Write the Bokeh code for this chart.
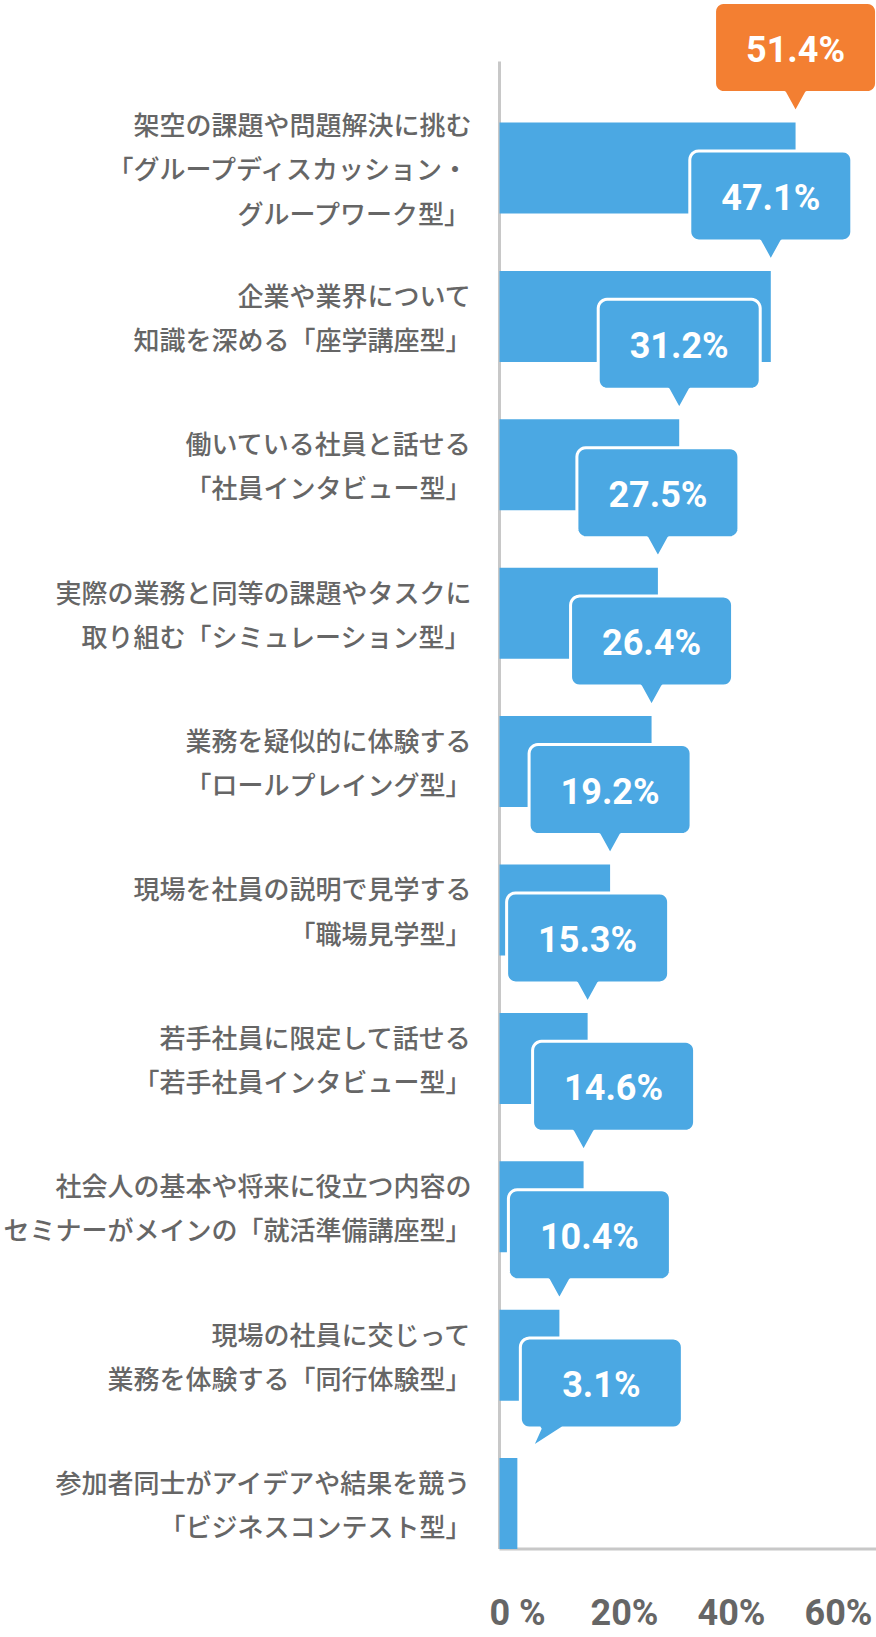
import numpy as np
from bokeh.plotting import figure
from bokeh.models import Range1d, FixedTicker
from bokeh.core.properties import value
from bokeh.embed import file_html
from bokeh.resources import INLINE

# ---------------- data ----------------
categories = [
    "架空の課題や問題解決に挑む\n「グループディスカッション・\nグループワーク型」",
    "企業や業界について\n知識を深める「座学講座型」",
    "働いている社員と話せる\n「社員インタビュー型」",
    "実際の業務と同等の課題やタスクに\n取り組む「シミュレーション型」",
    "業務を疑似的に体験する\n「ロールプレイング型」",
    "現場を社員の説明で見学する\n「職場見学型」",
    "若手社員に限定して話せる\n「若手社員インタビュー型」",
    "社会人の基本や将来に役立つ内容の\nセミナーがメインの「就活準備講座型」",
    "現場の社員に交じって\n業務を体験する「同行体験型」",
    "参加者同士がアイデアや結果を競う\n「ビジネスコンテスト型」",
]
values = [51.4, 47.1, 31.2, 27.5, 26.4, 19.2, 15.3, 14.6, 10.4, 3.1]
tick_values = [0, 20, 40, 60]
tick_labels = ["0 %", "20%", "40%", "60%"]

# ---------------- layout / style (pixels) ----------------
W, H = 876, 1637
BOTTOM = 86
FRAME_H = H - BOTTOM
AXIS_X = 499.0          # canvas x of the value axis (0 %)
PX = 5.76               # pixels per percent
ROW0 = 167.5            # canvas y of first bar centre
PITCH = 148.4           # row pitch
BAR_H = 91.0
LABEL_RIGHT = 471.0
AXIS_TOP = 61.0
TICK_OFF = 18.0
TICK_STEP = 107.0 / 20.0

BW, BH, R = 162.0, 90.0, 9.0
BOX_GAP, TIP_GAP, HB = 30.0, 10.0, 11.0
box_dx = [0, 0, 0, 0, 0, 0, 0, 30, 30, 84]
tip_dx = [0, 0, 0, 0, 0, 0, 0, 0, 0, 14]
base_dx = [0, 0, 0, 0, 0, 0, 0, 0, 0, 34]

BLUE = "#4ba8e3"
ORANGE = "#f37f32"
GRAY_TXT = "#666666"
AXIS_C = "#c8c8c8"


def dx(px):
    return (px - AXIS_X) / PX


def dy(py):
    return (py - ROW0) / PITCH


p = figure(width=W, height=H, output_backend="svg", toolbar_location=None,
           x_range=Range1d(dx(0), dx(W)),
           y_range=Range1d(dy(FRAME_H), dy(0)),
           y_axis_location=None,
           min_border_left=0, min_border_right=0, min_border_top=0,
           min_border_bottom=BOTTOM)
p.xgrid.visible = False
p.ygrid.visible = False
p.outline_line_color = None
p.background_fill_color = "white"
p.border_fill_color = "white"

n = len(values)
rows = list(range(n))
bottom_y = (n - 1) + BAR_H / 2 / PITCH

# axis lines
p.segment(x0=[0, 0], y0=[dy(AXIS_TOP), bottom_y], x1=[0, dx(W + 20)], y1=[bottom_y, bottom_y],
          line_color=AXIS_C, line_width=3)

# bars
p.hbar(y=rows, left=0, right=values, height=BAR_H / PITCH, fill_color=BLUE, line_color=None)

# category labels
p.text(x=[dx(LABEL_RIGHT)] * n, y=rows, text=categories,
       text_font=value("Noto Sans CJK JP Medium"), text_font_size="26px", text_color=GRAY_TXT,
       text_align="right", text_baseline="middle", text_line_height=1.19)


def arc(cx, cy, a0, a1, k=7):
    a = np.radians(np.linspace(a0, a1, k))
    return list(cx + R * np.cos(a)), list(cy + R * np.sin(a))


xs, ys, cols, tx, ty, tt = [], [], [], [], [], []
for i, v in enumerate(values):
    end_px = AXIS_X + v * PX
    top_px = ROW0 + i * PITCH - BAR_H / 2
    cx = end_px + box_dx[i]
    bb = top_px - BOX_GAP
    bt = bb - BH
    l, r = cx - BW / 2, cx + BW / 2
    tipx, tipy = end_px + tip_dx[i], top_px - TIP_GAP
    bc = end_px + base_dx[i]
    px_, py_ = [], []
    ax, ay = arc(r - R, bt + R, -90, 0); px_ += ax; py_ += ay
    ax, ay = arc(r - R, bb - R, 0, 90); px_ += ax; py_ += ay
    px_ += [bc + HB, tipx, bc - HB]; py_ += [bb, tipy, bb]
    ax, ay = arc(l + R, bb - R, 90, 180); px_ += ax; py_ += ay
    ax, ay = arc(l + R, bt + R, 180, 270); px_ += ax; py_ += ay
    xs.append([dx(q) for q in px_])
    ys.append([dy(q) for q in py_])
    cols.append(ORANGE if i == 0 else BLUE)
    tx.append(dx(cx))
    ty.append(dy(bb - BH / 2 + 2))
    tt.append(f"{v:.1f}%")

p.patches(xs=xs, ys=ys, fill_color=cols, line_color="white", line_width=3)
p.text(x=tx, y=ty, text=tt, text_font=value("Roboto"), text_font_style="bold",
       text_font_size="36px", text_color="white", text_align="center", text_baseline="middle")

# bottom axis labels
tick_pos = [dx(AXIS_X + TICK_OFF + t * TICK_STEP) for t in tick_values]
p.xaxis.ticker = FixedTicker(ticks=tick_pos)
p.xaxis.major_label_overrides = {tp: lab for tp, lab in zip(tick_pos, tick_labels)}
p.xaxis.axis_line_color = None
p.xaxis.major_tick_line_color = None
p.xaxis.minor_tick_line_color = None
p.xaxis.major_tick_out = 0
p.xaxis.major_tick_in = 0
p.xaxis.major_label_standoff = 40
p.xaxis.major_label_text_font = "Roboto"
p.xaxis.major_label_text_font_style = "bold"
p.xaxis.major_label_text_font_size = "36px"
p.xaxis.major_label_text_color = GRAY_TXT

open("out.html", "w").write(file_html(p, INLINE))
